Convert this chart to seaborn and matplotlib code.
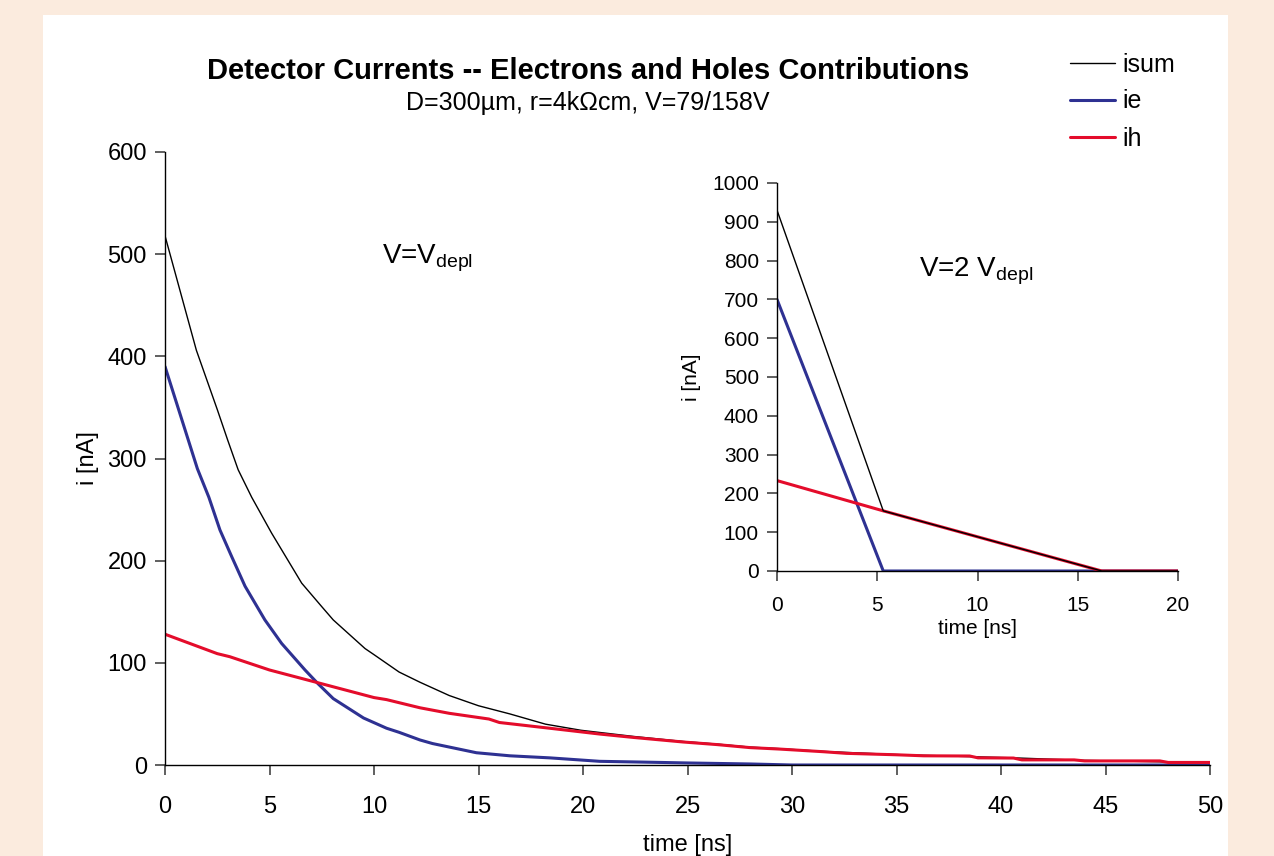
import matplotlib
matplotlib.use('Agg')
import matplotlib.pyplot as plt
import seaborn as sns
import pandas as pd
from matplotlib.patches import Rectangle

# main panel, V = V_depl
t_sum = [0, 1.5, 2.5, 3, 3.5, 4.15, 5.1, 6.54, 7.5, 8.05, 9.57, 10, 11.2, 12.2, 13.6, 15, 16.5,
         18.2, 19.9, 22.4, 24.8, 26.4, 28, 29.4, 31.5, 35, 40.6, 44, 48, 50]
i_sum = [518, 406, 348, 318, 289, 262, 227, 178, 155, 142, 114, 108, 91, 81, 68, 58, 50,
         40, 34, 28, 23, 20.5, 17.5, 16, 13.3, 10.2, 7, 4.5, 3, 2.5]
t_e = [0, 1.55, 2.1, 2.63, 3.19, 3.83, 4.78, 5.58, 6.7, 7.3, 8.05, 9.5, 10.6, 11.2, 12.2, 12.8,
       14.9, 16.5, 18.4, 20.8, 22.7, 25, 28, 30, 50]
i_e = [390, 290, 262, 230, 204, 175, 142, 119, 93, 80, 65, 46, 36, 32, 24.5, 21,
       12, 9, 7, 3.6, 2.9, 2, 1, 0, 0]
t_h = [0, 2.5, 3.1, 5, 7.3, 10, 10.6, 12.2, 13.6, 15.5, 16, 18.4, 20.8, 22.4, 24.8, 26.4,
       28, 29.4, 31.5, 32.6, 35, 36.3, 38.5, 38.9, 40.6, 41, 43.5, 44, 47.6, 48, 50]
i_h = [128, 109, 106, 93, 80.6, 66, 64, 56, 50.6, 45, 41.6, 36, 30.3, 27, 22.5, 20,
       17, 15.6, 13, 11.4, 10, 9, 8.8, 7, 6.8, 5, 5, 4, 4, 2.5, 2.5]

# inset, V = 2 V_depl
t2_sum = [0, 5.3, 16.2, 20]
i2_sum = [930, 155, 0, 0]
t2_e = [0, 5.3, 20]
i2_e = [700, 0, 0]
t2_h = [0, 5.3, 16.2, 20]
i2_h = [233, 155, 0, 0]

series_names = ['isum', 'ie', 'ih']
colors = {'isum': 'black', 'ie': '#2E3192', 'ih': '#E40C2B'}
widths = {'isum': 1.0, 'ie': 2.2, 'ih': 2.2}

sns.set_style('ticks')
plt.rcParams['font.family'] = ['Liberation Sans', 'DejaVu Sans']
plt.rcParams['mathtext.fontset'] = 'custom'
plt.rcParams['mathtext.rm'] = 'Liberation Sans'
plt.rcParams['mathtext.it'] = 'Liberation Sans:italic'
plt.rcParams['text.color'] = 'black'
plt.rcParams['axes.labelcolor'] = 'black'
plt.rcParams['xtick.labelcolor'] = 'black'
plt.rcParams['ytick.labelcolor'] = 'black'

fig = plt.figure(figsize=(12.74, 8.56), dpi=100)
fig.patch.set_facecolor('#FBEBDE')
panel = Rectangle((43 / 1274, 0), (1228 - 43) / 1274, 1 - 15 / 856,
                  transform=fig.transFigure, facecolor='white', edgecolor='none', zorder=-10)
fig.add_artist(panel)


def draw(ax, data, sum_on_top=False):
    for name, (t, v) in zip(series_names, data):
        df = pd.DataFrame({'t': t, 'i': v})
        z = 3 if (sum_on_top and name == 'isum') else 2
        sns.lineplot(data=df, x='t', y='i', ax=ax, color=colors[name], zorder=z,
                     linewidth=widths[name], sort=False, label=name, legend=False)
    sns.despine(ax=ax)
    ax.set_facecolor('none')
    for s in ['left', 'bottom']:
        ax.spines[s].set_color('black')
        ax.spines[s].set_linewidth(1.0)
    ax.tick_params(direction='out', color='#444444', length=7, width=1.2)


ax = fig.add_axes([165 / 1274, 1 - 765 / 856, (1210 - 165) / 1274, (765 - 152) / 856])
draw(ax, [(t_sum, i_sum), (t_e, i_e), (t_h, i_h)])
ax.set_xlim(0, 50)
ax.set_ylim(0, 600)
ax.set_xticks(range(0, 51, 5))
ax.set_yticks(range(0, 601, 100))
ax.tick_params(labelsize=17)
ax.tick_params(axis='x', pad=15)
ax.tick_params(axis='y', pad=6)
ax.set_xlabel('time [ns]', fontsize=17, labelpad=12)
ax.set_ylabel('i [nA]', fontsize=17, labelpad=6)
ax.text(0.208, 0.818, r'V=V$_\mathrm{depl}$', transform=ax.transAxes, fontsize=20)

ins = fig.add_axes([777 / 1274, 1 - 571 / 856, (1178 - 777) / 1274, (571 - 183) / 856])
draw(ins, [(t2_sum, i2_sum), (t2_e, i2_e), (t2_h, i2_h)], sum_on_top=True)
ins.set_xlim(0, 20)
ins.set_ylim(0, 1000)
ins.set_xticks(range(0, 21, 5))
ins.set_yticks(range(0, 1001, 100))
ins.tick_params(labelsize=15)
ins.tick_params(axis='x', pad=11)
ins.tick_params(axis='y', pad=6)
ins.set_xlabel('time [ns]', fontsize=15, labelpad=3)
ins.set_ylabel('i [nA]', fontsize=15, labelpad=8)
ins.text(0.355, 0.758, r'V=2 V$_\mathrm{depl}$', transform=ins.transAxes, fontsize=20)

fig.text(588 / 1274, 1 - 71 / 856, 'Detector Currents -- Electrons and Holes Contributions',
         ha='center', va='center', fontsize=21, fontweight='bold')
fig.text(588 / 1274, 1 - 103 / 856, 'D=300\u00b5m, r=4k\u03a9cm, V=79/158V',
         ha='center', va='center', fontsize=18)

handles, labels = ax.get_legend_handles_labels()
fig.legend(handles, labels, loc='upper left', bbox_to_anchor=(1047 / 1274, 1 - 30 / 856),
           frameon=False, fontsize=18, handlelength=1.8, handletextpad=0.3, labelspacing=0.52)

fig.savefig('out.png', dpi=100, facecolor=fig.get_facecolor())
